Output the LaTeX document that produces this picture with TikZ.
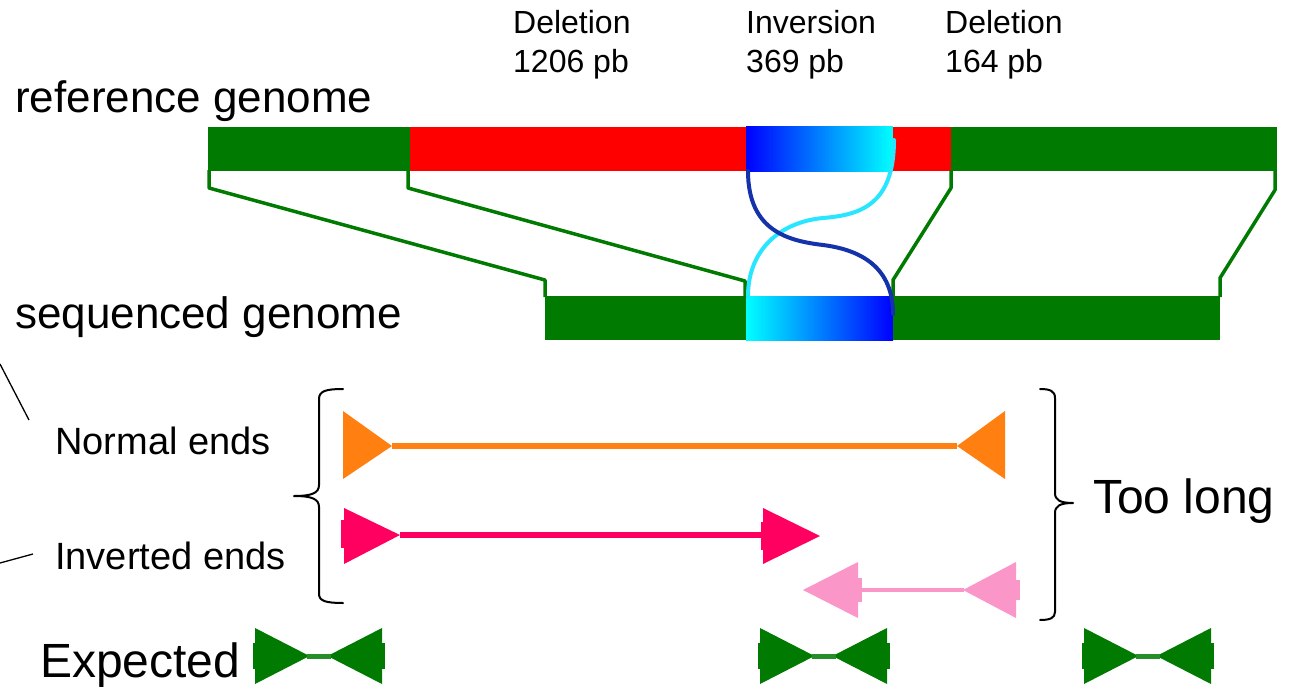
\documentclass[tikz,border=0pt]{standalone}
\usepackage{fontspec}
\setmainfont{Liberation Sans}
\definecolor{ggreen}{RGB}{0,122,0}
\definecolor{rred}{RGB}{255,0,0}
\definecolor{dblue}{RGB}{20,50,170}
\definecolor{ccyan}{RGB}{40,230,255}
\definecolor{orng}{RGB}{255,128,16}
\definecolor{pred}{RGB}{255,0,96}
\definecolor{lpink}{RGB}{250,150,200}
\begin{document}
\begin{tikzpicture}[x=1pt,y=-1pt,
  gline/.style={draw=ggreen, line width=3.5pt, line join=round},
  lblsmall/.style={anchor=base west, inner sep=0pt, font=\fontsize{32}{38}\selectfont},
  lblmid/.style={anchor=base west, inner sep=0pt, font=\fontsize{38}{44}\selectfont},
  lblbig/.style={anchor=base west, inner sep=0pt, font=\fontsize{44}{50}\selectfont},
  lblhuge/.style={anchor=base west, inner sep=0pt, font=\fontsize{48}{54}\selectfont},
  brace/.style={draw=black, line width=2pt, line cap=round, line join=round},
  curve/.style={line width=4pt, line cap=round}]
\useasboundingbox (0,0) rectangle (1301,690);
\fill[white] (0,0) rectangle (1301,690);

% labels at top
\node[lblsmall] (d1a) at (513,34) {Deletion};
\node[lblsmall] (d1b) at (513,73) {1206 pb};
\node[lblsmall] (inva) at (746,34) {Inversion};
\node[lblsmall] (invb) at (746,73) {369 pb};
\node[lblsmall] (d2a) at (945,34) {Deletion};
\node[lblsmall] (d2b) at (945,73) {164 pb};
\node[lblbig] (refl) at (15,113) {reference genome};
\node[lblbig] (seql) at (15,328) {sequenced genome};

% reference genome bar
\fill[ggreen] (208,127) rectangle (410,171);
\fill[rred] (410,127) rectangle (746,171);
\shade[left color=blue, right color=cyan] (746,127) rectangle (893,171);
\fill[rred] (893,127) rectangle (951,171);
\fill[ggreen] (951,127) rectangle (1277,171);

% sequenced genome bar
\fill[ggreen] (545,296) rectangle (746,340);
\shade[left color=cyan, right color=blue] (746,296) rectangle (893,340);
\fill[ggreen] (893,296) rectangle (1220,340);

% connectors
\draw[gline] (209,170) -- (209,188) -- (545,280) -- (545,297);
\draw[gline] (408,170) -- (408,188) -- (745,281) -- (745,297);
\draw[gline] (951,170) -- (951,188) -- (893,280) -- (893,297);
\draw[gline] (1275,170) -- (1275,190) -- (1220,278) -- (1220,297);

% inversion curves
\draw[curve, draw=ccyan] (894,140) .. controls (894,205) and (860,215) .. (823,218)
   .. controls (780,222) and (748,250) .. (748,296);
\draw[curve, draw=dblue] (748,171) .. controls (748,232) and (790,241) .. (823,245)
   .. controls (862,250) and (893,268) .. (893,314);

% pointer lines
\coordinate (p1) at (0,364);
\coordinate (p2) at (0,563);
\node[lblmid] (normal) at (55,454) {Normal ends};
\node[lblmid] (inverted) at (55,569) {Inverted ends};
\draw[line width=1.3pt] (p1) -- (29,420);
\draw[line width=1.3pt] (p2) -- (33,554);

% braces
\draw[brace] (343,389) .. controls (326,389) and (319,391) .. (319,399) -- (319,485)
  .. controls (319,493) and (312,496) .. (294,496)
  .. controls (312,496) and (319,499) .. (319,507) -- (319,594)
  .. controls (319,601) and (326,603) .. (343,603);
\draw[brace] (1040,389) .. controls (1050,389) and (1055,391) .. (1055,398) -- (1055,493)
  .. controls (1055,500) and (1060,503) .. (1073,503)
  .. controls (1060,503) and (1055,506) .. (1055,513) -- (1055,612)
  .. controls (1055,618) and (1050,620) .. (1040,620);
\node[lblhuge] (toolong) at (1093,513) {Too long};

% orange arrow (normal ends)
\coordinate (o1) at (392,446);
\coordinate (o2) at (957,446);
\fill[orng] (343,411) -- (343,479) -- (o1) -- cycle;
\fill[orng] (1005,411) -- (1005,479) -- (o2) -- cycle;
\draw[orng, line width=6pt] (o1) -- (o2);

% red arrow (inverted ends)
\coordinate (r1) at (400,535);
\coordinate (r2) at (766,535);
\fill[pred] (344,508) -- (344,564) -- (r1) -- cycle;
\fill[pred] (341,520) rectangle (348,548);
\fill[pred] (763,508) -- (763,564) -- (820,536) -- cycle;
\fill[pred] (761,522) rectangle (768,550);
\draw[pred, line width=6pt] (r1) -- (r2);

% light pink arrow
\coordinate (k1) at (858,590);
\coordinate (k2) at (964,590);
\fill[lpink] (803,590) -- (858,562) -- (858,618) -- cycle;
\fill[lpink] (856,578) rectangle (862,602);
\fill[lpink] (963,590) -- (1016,562) -- (1016,618) -- cycle;
\fill[lpink] (1014,580) rectangle (1020,600);
\draw[lpink, line width=4.5pt] (k1) -- (k2);

% expected
\node[lblhuge] (expected) at (40,677) {Expected};
\foreach \cx/\n in {318.5/a, 823.5/b, 1147.5/c}{
  \coordinate (bt\n) at (\cx,656);
  \fill[ggreen] ([xshift=-63.5pt]bt\n) ++(0,-28) -- ++(0,56) -- ([xshift=-9pt]bt\n) -- cycle;
  \fill[ggreen] ([xshift=63.5pt]bt\n) ++(0,-28) -- ++(0,56) -- ([xshift=9pt]bt\n) -- cycle;
  \fill[ggreen] ([xshift=-66pt]bt\n) ++(0,-13) rectangle ++(4,26);
  \fill[ggreen] ([xshift=62pt]bt\n) ++(0,-13) rectangle ++(4,26);
  \draw[ggreen!85!white, line width=5pt] ([xshift=-12pt]bt\n) -- ([xshift=12pt]bt\n);
}
\end{tikzpicture}
\end{document}
